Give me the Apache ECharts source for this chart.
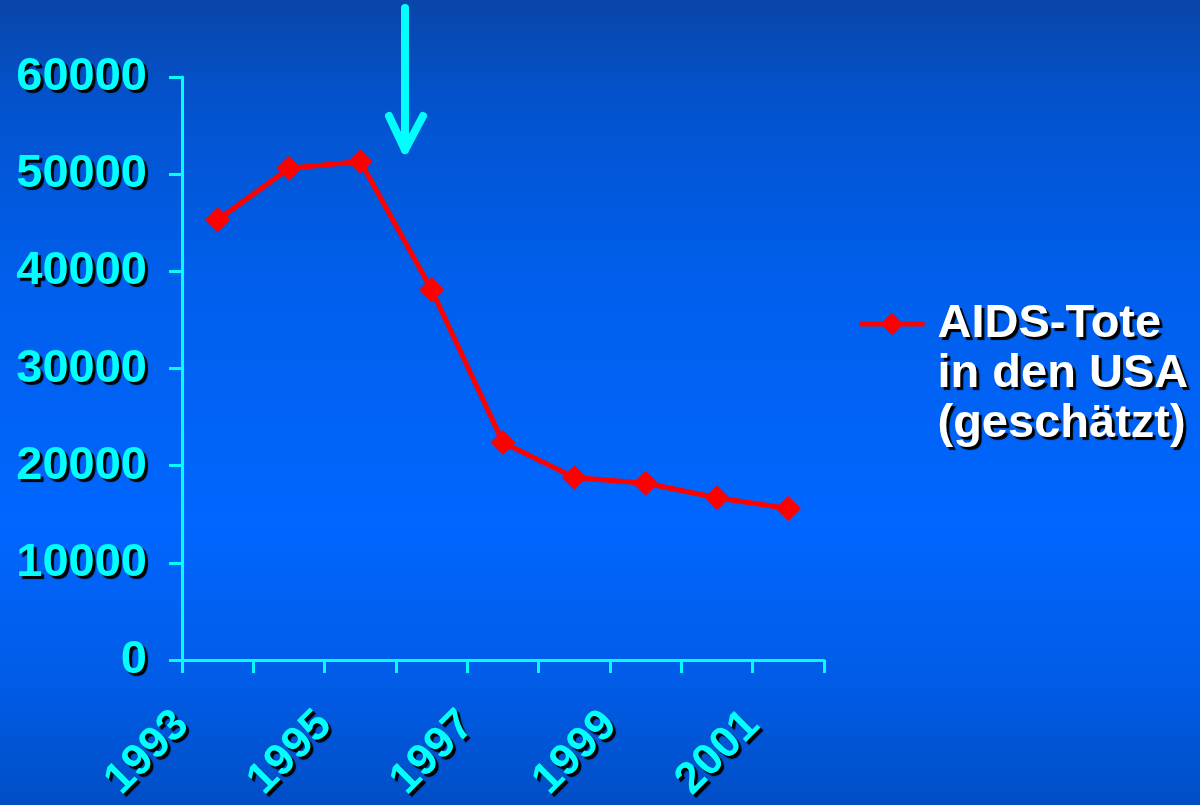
<!DOCTYPE html>
<html>
<head>
<meta charset="utf-8">
<script src="https://cdn.jsdelivr.net/npm/echarts@6/dist/echarts.min.js"></script>
<style>
html,body{margin:0;padding:0;width:1200px;height:805px;overflow:hidden;}
#chart{width:1200px;height:805px;}
</style>
</head>
<body>
<div id="chart"></div>
<script>
const years = ['1993','1994','1995','1996','1997','1998','1999','2000','2001'];
const deaths = [45300, 50600, 51300, 38100, 22400, 18800, 18200, 16700, 15600];
const yTicks = [0, 10000, 20000, 30000, 40000, 50000, 60000];
const seriesName = 'AIDS-Tote\nin den USA\n(geschätzt)';

const FONT = '"Liberation Sans", Arial, sans-serif';
const CYAN = '#00ffff';
const SHADOW = {textShadowColor: '#000000', textShadowOffsetX: 3, textShadowOffsetY: 3, textShadowBlur: 1};

const chart = echarts.init(document.getElementById('chart'), null, {renderer: 'canvas'});
chart.setOption({
  animation: false,
  backgroundColor: {
    type: 'linear', x: 0, y: 0, x2: 0, y2: 1,
    colorStops: [
      {offset: 0, color: '#0a45a8'},
      {offset: 0.12, color: '#0352cc'},
      {offset: 0.35, color: '#005fec'},
      {offset: 0.65, color: '#0066ff'},
      {offset: 0.85, color: '#005ce6'},
      {offset: 1, color: '#004ec6'}
    ]
  },
  grid: {left: 182, right: 376, top: 77, bottom: 142, containLabel: false},
  legend: {
    left: 857, top: 199, padding: 0,
    itemWidth: 65, itemHeight: 28, itemGap: 0,
    data: [seriesName],
    formatter: function (name) {
      return '\n\n' + name.split('\n').map(function (s) { return '{t|' + s + '}'; }).join('\n');
    },
    lineStyle: {width: 5, color: '#ff0000'},
    itemStyle: {color: '#ff0000'},
    textStyle: Object.assign({
      color: '#ffffff', fontFamily: FONT, fontWeight: 'bold', fontSize: 47,
      lineHeight: 50,
      rich: {t: Object.assign({
        color: '#ffffff', fontFamily: FONT, fontWeight: 'bold', fontSize: 47,
        lineHeight: 50, padding: [0, 0, 0, 8]
      }, SHADOW)}
    }, SHADOW)
  },
  xAxis: [
    {
      type: 'category', data: years, boundaryGap: true, position: 'bottom',
      axisLine: {lineStyle: {color: CYAN, width: 3}},
      axisTick: {show: true, length: 13, lineStyle: {color: CYAN, width: 3}, interval: 0},
      axisLabel: {show: false},
      splitLine: {show: false}
    },
    {
      type: 'value', min: 0, max: years.length, interval: 1, position: 'bottom',
      axisLine: {show: false}, axisTick: {show: false}, splitLine: {show: false},
      axisLabel: Object.assign({
        show: true, rotate: 45, margin: 58,
        formatter: function (v) { return (v % 2 === 0 && years[v]) ? years[v] : ''; },
        color: CYAN, fontFamily: FONT, fontWeight: 'bold', fontSize: 44
      }, SHADOW)
    }
  ],
  yAxis: {
    type: 'value', min: yTicks[0], max: yTicks[yTicks.length - 1], interval: 10000,
    axisLine: {show: true, lineStyle: {color: CYAN, width: 3}},
    axisTick: {show: true, length: 13, lineStyle: {color: CYAN, width: 3}},
    splitLine: {show: false},
    axisLabel: Object.assign({
      margin: 35, color: CYAN, fontFamily: FONT, fontWeight: 'bold', fontSize: 47,
      formatter: function (v) { return String(v); }
    }, SHADOW)
  },
  series: [{
    name: seriesName, type: 'line', xAxisIndex: 0, data: deaths,
    symbol: 'diamond', symbolSize: 25,
    itemStyle: {color: '#ff0000'},
    lineStyle: {color: '#ff0000', width: 5}
  }],
  graphic: [
    {type: 'line', shape: {x1: 405, y1: 8, x2: 405, y2: 150},
     style: {stroke: CYAN, lineWidth: 8, lineCap: 'round'}},
    {type: 'polyline', shape: {points: [[389, 116], [405, 150], [423, 116]]},
     style: {stroke: CYAN, lineWidth: 8, lineCap: 'round', lineJoin: 'round', fill: null}}
  ]
});
</script>
</body>
</html>
